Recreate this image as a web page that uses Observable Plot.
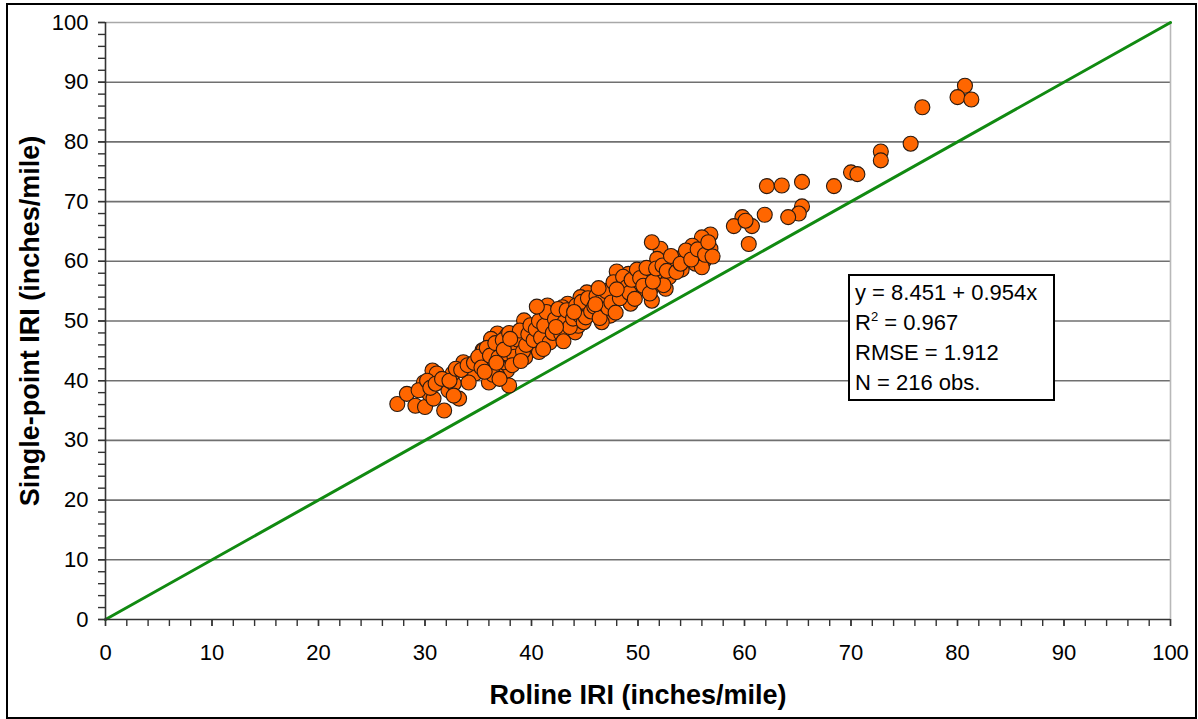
<!DOCTYPE html>
<html>
<head>
<meta charset="utf-8">
<script src="https://cdn.jsdelivr.net/npm/d3@7"></script>
<script src="https://cdn.jsdelivr.net/npm/@observablehq/plot@0.6"></script>
<style>
  html, body { margin: 0; padding: 0; background: #fff; }
  #wrap { position: relative; width: 1198px; height: 719px; font-family: "Liberation Sans", Arial, sans-serif; }
  #chart { position: absolute; left: 0; top: 0; }
  #frame { position: absolute; left: 6px; top: 3px; width: 1187px; height: 712px; border: 2px solid #000; pointer-events: none; }
  #stats { position: absolute; left: 848px; top: 274px; width: 207px; height: 127px; border: 2px solid #000; background: #fff;
           font-size: 22px; line-height: 30px; padding: 2px 0 0 5px; box-sizing: border-box; color: #000; white-space: nowrap; }
  #stats sup { font-size: 13px; vertical-align: 9px; line-height: 0; }
</style>
</head>
<body>
<div id="wrap">
  <div id="chart"></div>
  <div id="stats"></div>
  <div id="frame"></div>
</div>
<script>
// Roline (x) vs single-point (y) IRI readings, inches/mile — 216 sections
const rolineIRI = [
  80.7, 80.0, 81.3, 76.7, 75.6, 72.8, 72.8, 70.0, 70.6, 68.4, 62.1, 63.5, 65.4, 65.4, 65.1, 64.1, 61.9, 59.8, 59.0, 60.7, 60.1, 60.4,
  56.8, 56.0, 56.8, 55.1, 52.1, 51.3, 52.0, 53.4, 54.3, 55.4, 56.2, 54.1, 52.0, 52.6, 52.9, 51.2, 51.3, 52.4, 56.0,
  48.0, 49.1, 50.4, 51.8, 48.8, 47.6, 49.6, 51.0, 48.5, 47.3, 46.0, 45.2, 44.6, 45.5, 46.8, 49.3, 43.4, 44.4, 46.2, 47.4, 46.6, 44.0, 42.7, 50.1, 48.8,
  39.3, 41.5, 41.8, 42.9, 42.9, 43.8, 44.1, 42.6, 41.0, 40.1, 39.4, 36.8, 36.2, 37.7, 38.2, 39.3, 38.3, 37.1, 35.4, 40.7, 39.4, 38.0, 34.9, 37.7, 36.2, 37.4, 42.4, 44.4,
  27.4, 28.3, 29.1, 30.0, 30.4, 29.9, 30.7, 31.1, 31.8, 32.2, 32.7, 33.2, 32.6, 33.6, 34.7, 34.1, 35.5, 36.0, 29.4, 30.8, 30.2, 32.7, 36.8, 37.9, 38.3, 37.1,
  30.5, 31.0, 31.6, 32.3, 32.9, 33.4, 34.0, 34.6, 35.0, 35.3,
  35.8, 36.1, 36.6, 36.9, 37.3, 37.6, 37.9, 38.1, 38.4, 38.7, 38.9, 39.2, 39.5, 39.7, 39.9, 36.4, 37.0, 35.6, 36.7, 38.2, 39.0, 37.4,
  40.2, 40.4, 40.7, 40.9, 41.2, 41.4, 41.7, 42.0, 42.2, 42.5, 42.8, 43.1, 43.3, 43.6, 43.9, 44.2, 44.5, 44.7, 44.9, 41.1, 43.0, 40.5,
  45.1, 45.3, 45.6, 45.9, 46.1, 46.4, 46.7, 47.0, 47.2, 47.5, 47.7, 47.9, 48.3, 48.6, 48.9, 49.2, 49.4, 49.7, 49.9, 46.3,
  50.2, 50.5, 50.8, 51.1, 51.4, 51.7, 52.3, 52.7, 53.1, 53.6, 54.0, 54.5, 55.0, 55.6, 56.3, 56.6, 57.0,
  38.0, 42.3, 44.0, 46.0, 48.0
];
const singlePointIRI = [
  89.4, 87.5, 87.1, 85.8, 79.7, 78.4, 76.9, 74.9, 74.6, 72.6, 72.6, 72.7, 73.3, 69.2, 68.0, 67.4, 67.8, 67.4, 65.9, 65.9, 66.8, 62.9,
  64.5, 64.0, 62.1, 62.6, 62.1, 63.2, 60.1, 60.3, 61.0, 59.6, 60.1, 58.6, 57.9, 55.4, 57.3, 55.4, 53.4, 56.0, 59.0,
  58.3, 57.9, 58.3, 60.4, 56.5, 55.7, 55.7, 55.4, 55.4, 54.3, 54.6, 54.8, 54.0, 52.6, 52.9, 52.9, 52.9, 51.2, 51.2, 50.9, 49.8, 49.2, 51.5, 55.4, 56.8,
  50.1, 52.6, 50.9, 52.3, 49.2, 51.2, 48.1, 47.3, 47.6, 48.1, 47.0, 47.9, 47.0, 47.6, 46.7, 45.6, 45.1, 45.1, 45.1, 44.8, 43.9, 43.7, 41.7, 41.7, 42.0, 43.1, 50.9, 49.2,
  36.1, 37.8, 35.8, 35.6, 37.8, 39.7, 41.7, 41.2, 35.0, 38.4, 39.5, 37.0, 41.2, 43.1, 41.2, 39.7, 45.1, 39.7, 38.4, 37.0, 40.0, 37.5, 40.9, 39.2, 43.4, 44.5,
  38.8, 39.5, 40.3, 40.0, 42.0, 41.8, 42.6, 43.0, 44.0, 42.2,
  45.5, 44.2, 46.3, 43.9, 46.8, 44.6, 48.0, 45.8, 44.0, 46.9, 48.4, 44.9, 46.0, 47.8, 49.3, 41.0, 40.3, 41.5, 43.0, 42.6, 43.3, 45.2,
  46.8, 48.6, 50.0, 47.2, 49.2, 51.5, 46.4, 48.0, 50.3, 52.0, 47.8, 49.8, 51.8, 49.0, 50.4, 52.6, 51.0, 53.2, 49.8, 45.3, 46.6, 52.4,
  50.6, 53.8, 51.6, 52.4, 54.2, 50.5, 53.6, 55.0, 52.2, 53.1, 56.5, 51.4, 53.8, 57.4, 55.6, 54.7, 56.9, 53.7, 58.6, 55.5,
  57.2, 55.9, 58.9, 54.6, 56.6, 58.8, 59.3, 58.4, 60.9, 58.2, 59.6, 61.8, 60.3, 62.0, 61.1, 63.2, 60.8,
  47.0, 49.0, 51.5, 52.8, 55.3
];

// Axis ticks
const majorTicks = [0, 10, 20, 30, 40, 50, 60, 70, 80, 90, 100];
const minorTicks = [0, 2, 4, 6, 8, 10, 12, 14, 16, 18, 20, 22, 24, 26, 28, 30, 32, 34, 36, 38, 40, 42, 44, 46, 48, 50,
                    52, 54, 56, 58, 60, 62, 64, 66, 68, 70, 72, 74, 76, 78, 80, 82, 84, 86, 88, 90, 92, 94, 96, 98, 100];

// 1:1 line
const equalityLine = [{x: 0, y: 0}, {x: 100, y: 100}];

// Regression summary
const statLines = ["y = 8.451 + 0.954x", "R<sup>2</sup> = 0.967", "RMSE = 1.912", "N = 216 obs."];

const readings = rolineIRI.map((x, i) => ({x, y: singlePointIRI[i]}));

const axisStyle = {stroke: "#333", strokeWidth: 1.4, label: null};

const chart = Plot.plot({
  width: 1198,
  height: 719,
  marginLeft: 105,
  marginRight: 28,
  marginTop: 22,
  marginBottom: 100,
  style: {fontFamily: "'Liberation Sans', Arial, sans-serif", fontSize: "22px", color: "#000", background: "transparent"},
  x: {domain: [0, 100], label: null},
  y: {domain: [0, 100], label: null},
  marks: [
    Plot.ruleY(majorTicks.filter(d => d > 0 && d < 100), {stroke: "#707070", strokeWidth: 1.6}),
    Plot.ruleY([100], {stroke: "#a8a8a8", strokeWidth: 1.6}),
    Plot.ruleX([100], {stroke: "#b8b8b8", strokeWidth: 1.6}),
    Plot.line(equalityLine, {x: "x", y: "y", stroke: "#118a11", strokeWidth: 3}),
    Plot.dot(readings, {x: "x", y: "y", r: 7.5, fill: "#ff6600", stroke: "#2a1a10", strokeWidth: 1.1, fillOpacity: 1}),
    Plot.axisX(minorTicks, {...axisStyle, tickSize: 7, text: null}),
    Plot.axisX(majorTicks, {...axisStyle, tickSize: 7, tickPadding: 18}),
    Plot.axisY(minorTicks, {...axisStyle, tickSize: 7, text: null}),
    Plot.axisY(majorTicks, {...axisStyle, tickSize: 7, tickPadding: 10}),
    Plot.ruleY([0], {stroke: "#333", strokeWidth: 1.6}),
    Plot.ruleX([0], {stroke: "#333", strokeWidth: 1.6}),
    Plot.text(["Roline IRI (inches/mile)"], {frameAnchor: "bottom", dy: 76, fontWeight: "bold", fontSize: 27, fill: "#000", textAnchor: "middle", lineAnchor: "middle"}),
    Plot.text(["Single-point IRI (inches/mile)"], {frameAnchor: "left", dx: -75, rotate: -90, fontWeight: "bold", fontSize: 27, fill: "#000", textAnchor: "middle", lineAnchor: "middle"})
  ]
});
document.getElementById("chart").appendChild(chart);
document.getElementById("stats").innerHTML = statLines.map(s => `<div>${s}</div>`).join("");
</script>
</body>
</html>
